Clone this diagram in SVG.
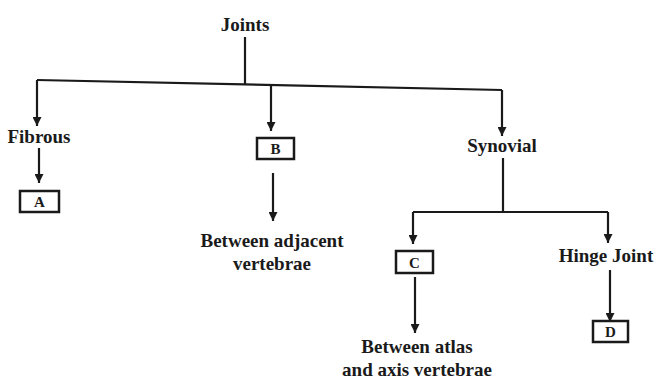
<svg xmlns="http://www.w3.org/2000/svg" width="655" height="380" viewBox="0 0 655 380">
<defs>
<marker id="ah" viewBox="0 0 10 10" refX="10" refY="5" markerWidth="9" markerHeight="9" markerUnits="userSpaceOnUse" orient="auto">
<path d="M0,0 L10,5 L0,10 Z" fill="#1a1a1a"/>
</marker>
<style>
.t{font-family:"Liberation Serif","Times New Roman",serif;font-weight:bold;font-size:19px;fill:#1a1a1a;text-anchor:middle}
.b{font-family:"Liberation Serif","Times New Roman",serif;font-weight:bold;font-size:15px;fill:#1a1a1a;text-anchor:middle}
.box{fill:#fff;stroke:#1a1a1a;stroke-width:2.5}
.ln{fill:none;stroke:#1a1a1a;stroke-width:2.2}
.ar{fill:none;stroke:#1a1a1a;stroke-width:2.2;marker-end:url(#ah)}
</style>
</defs>
<rect width="655" height="380" fill="#fff"/>
<g id="connectors">
<line class="ln" x1="245" y1="37" x2="245" y2="84"/>
<line class="ln" x1="37" y1="80" x2="502" y2="90"/>
<line class="ar" x1="37" y1="80" x2="37" y2="126"/>
<line class="ar" x1="271" y1="85" x2="271" y2="131"/>
<line class="ar" x1="502" y1="90" x2="502" y2="136"/>
<line class="ar" x1="39" y1="148" x2="39" y2="183"/>
<line class="ar" x1="273" y1="173" x2="273" y2="221"/>
<line class="ln" x1="503" y1="158" x2="503" y2="212"/>
<line class="ln" x1="413" y1="212" x2="608" y2="212"/>
<line class="ar" x1="413" y1="212" x2="413" y2="244"/>
<line class="ar" x1="608" y1="212" x2="608" y2="243"/>
<line class="ar" x1="415" y1="277" x2="415" y2="333"/>
<line class="ar" x1="610" y1="270" x2="610" y2="322"/>
</g>
<g id="joints"><text class="t" x="245" y="31">Joints</text></g>
<g id="fibrous"><text class="t" x="39" y="143">Fibrous</text></g>
<g id="boxA"><rect class="box" x="20" y="191" width="39" height="21"/><text class="b" x="39.5" y="207">A</text></g>
<g id="boxB"><rect class="box" x="257" y="138" width="37" height="21"/><text class="b" x="275.5" y="154">B</text></g>
<g id="adjacent"><text class="t" x="272" y="247">Between adjacent</text><text class="t" x="272" y="270">vertebrae</text></g>
<g id="synovial"><text class="t" x="502" y="152">Synovial</text></g>
<g id="boxC"><rect class="box" x="396" y="251" width="37" height="22"/><text class="b" x="414.5" y="267.5">C</text></g>
<g id="hinge"><text class="t" x="606" y="262">Hinge Joint</text></g>
<g id="atlas"><text class="t" x="417" y="353">Between atlas</text><text class="t" x="417" y="376">and axis vertebrae</text></g>
<g id="boxD"><rect class="box" x="593" y="321" width="35" height="21"/><text class="b" x="610.5" y="337">D</text></g>
</svg>
